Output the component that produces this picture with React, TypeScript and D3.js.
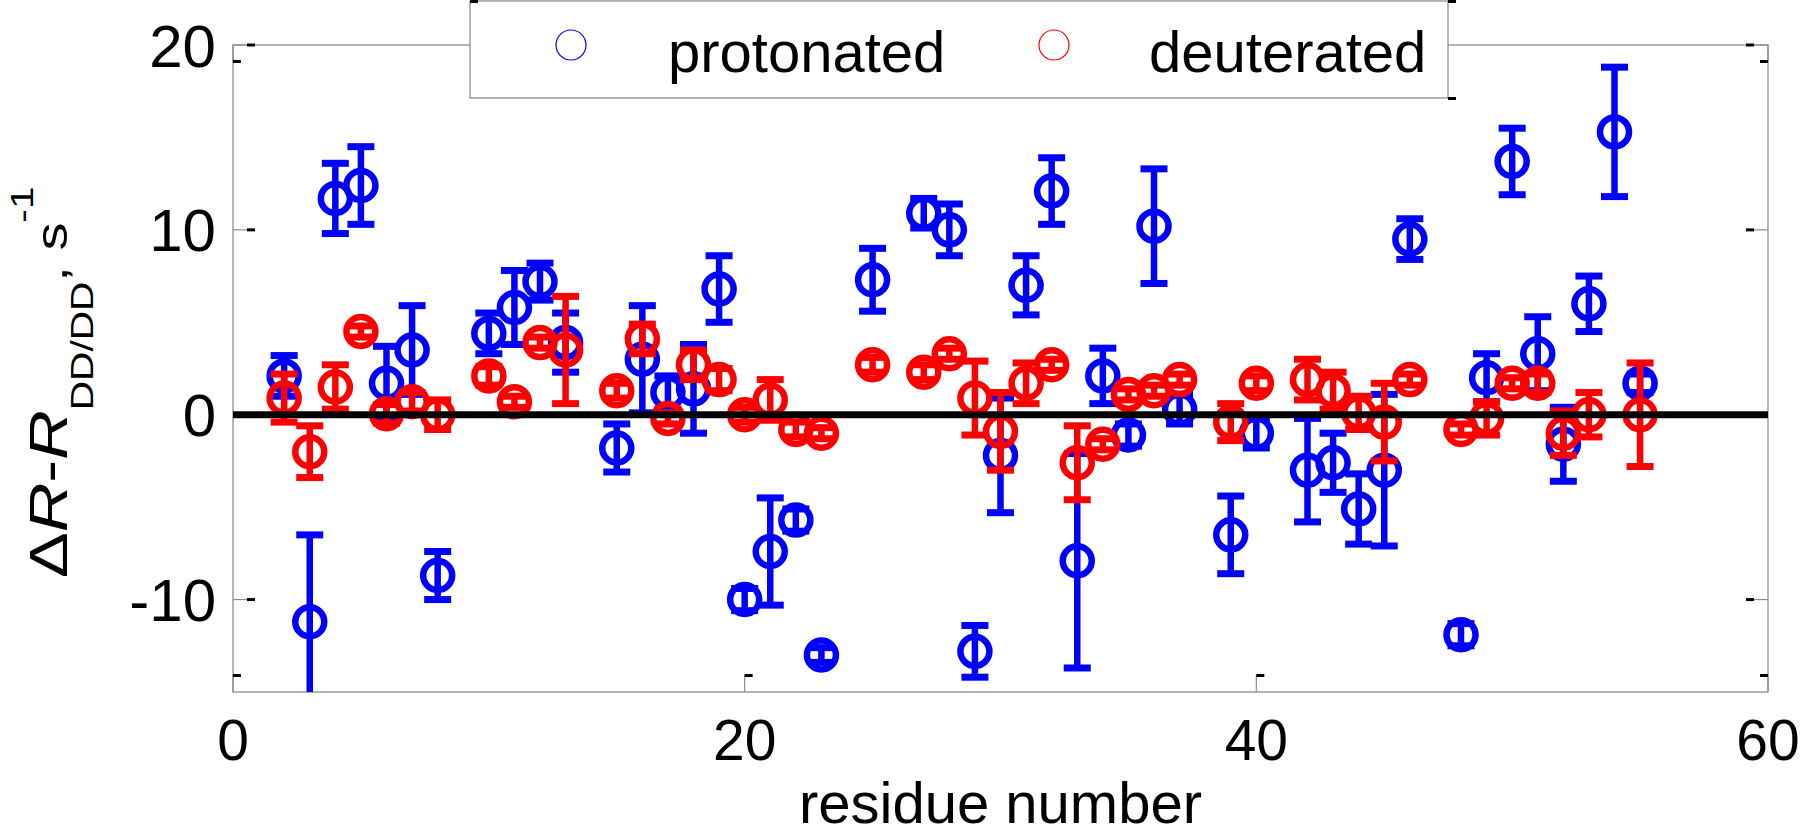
import React from 'react';
import * as d3 from 'd3';

// residue numbers and values
const protonatedResidues = [2, 3, 4, 5, 6, 7, 8, 10, 11, 12, 13, 15, 16, 17, 18, 19, 20, 21, 22, 23, 25, 27, 28, 29, 30, 31, 32, 33, 34, 35, 36, 37, 39, 40, 42, 43, 44, 45, 46, 48, 49, 50, 51, 52, 53, 54, 55];
const protonatedValues = [2.1, -11.2, 11.7, 12.4, 1.7, 3.5, -8.7, 4.4, 5.8, 7.2, 3.9, -1.8, 3.0, 1.2, 1.4, 6.8, -10.0, -7.4, -5.7, -13.0, 7.3, 10.9, 10.0, -12.8, -2.2, 7.0, 12.1, -7.9, 2.1, -1.1, 10.2, 0.3, -6.5, -1.0, -3.0, -2.6, -5.1, -3.0, 9.5, -11.9, 2.0, 13.7, 3.3, -1.6, 6.0, 15.3, 1.7];
const protonatedErrors = [1.1, 4.7, 1.9, 2.1, 2.0, 2.4, 1.3, 1.1, 2.0, 1.0, 1.6, 1.3, 2.9, 0.9, 2.4, 1.8, 0.6, 2.9, 0.6, 0.4, 1.7, 0.8, 1.4, 1.4, 3.1, 1.6, 1.8, 5.8, 1.5, 0.6, 3.1, 0.8, 2.1, 0.8, 2.8, 1.6, 1.9, 4.1, 1.1, 0.6, 1.3, 1.8, 2.0, 2.0, 1.5, 3.5, 0.5];

const deuteratedResidues = [2, 3, 4, 5, 6, 7, 8, 10, 11, 12, 13, 15, 16, 17, 18, 19, 20, 21, 22, 23, 25, 27, 28, 29, 30, 31, 32, 33, 34, 35, 36, 37, 39, 40, 42, 43, 44, 45, 46, 48, 49, 50, 51, 52, 53, 55];
const deuteratedValues = [0.9, -2.0, 1.5, 4.5, 0.05, 0.7, 0.0, 2.1, 0.7, 3.9, 3.5, 1.3, 4.1, -0.2, 2.7, 1.9, 0.0, 0.8, -0.8, -1.0, 2.7, 2.3, 3.3, 0.9, -0.9, 1.7, 2.7, -2.6, -1.6, 1.1, 1.3, 1.9, -0.4, 1.7, 1.9, 1.3, 0.1, -0.4, 1.9, -0.8, -0.2, 1.7, 1.7, -1.0, 0.0, 0.0];
const deuteratedErrors = [1.3, 1.4, 1.2, 0.3, 0.5, 0.5, 0.8, 0.5, 0.3, 0.3, 2.9, 0.4, 0.8, 0.3, 0.8, 0.6, 0.4, 1.1, 0.4, 0.3, 0.4, 0.4, 0.3, 2.0, 2.1, 1.1, 0.3, 2.0, 0.3, 0.3, 0.3, 0.3, 1.0, 0.4, 1.1, 1.0, 0.9, 2.1, 0.3, 0.3, 0.9, 0.3, 0.5, 1.2, 1.2, 2.8];

const xTicks = [0, 20, 40, 60];
const yTicks = [-10, 0, 10, 20];
const seriesNames = ['protonated', 'deuterated'];

const W = 1800;
const H = 837;
const L = 233;
const R = 1768;
const T = 45;
const B = 692;
const FONT = '"Liberation Sans", Arial, sans-serif';

const x = d3.scaleLinear().domain([0, 60]).range([L, R]);
const y = d3.scaleLinear().domain([-15, 20]).range([B, T]);

type Series = { res: number[]; val: number[]; err: number[]; color: string };

const series: Series[] = [
  { res: protonatedResidues, val: protonatedValues, err: protonatedErrors, color: '#0000ff' },
  { res: deuteratedResidues, val: deuteratedValues, err: deuteratedErrors, color: '#ff0000' },
];

function ErrorSeries({ s }: { s: Series }) {
  const capW = 27;
  const sw = 6.5;
  return (
    <g>
      {s.res.map((r, i) => {
        const cx = x(r);
        const cy = y(s.val[i]);
        const y1 = y(s.val[i] + s.err[i]);
        const y2 = y(s.val[i] - s.err[i]);
        return (
          <g key={i} stroke={s.color} fill="none">
            <line x1={cx} x2={cx} y1={y1} y2={y2} strokeWidth={sw} />
            <line x1={cx - capW / 2} x2={cx + capW / 2} y1={y1} y2={y1} strokeWidth={7} />
            <line x1={cx - capW / 2} x2={cx + capW / 2} y1={y2} y2={y2} strokeWidth={7} />
            <circle cx={cx} cy={cy} r={14.5} strokeWidth={sw} />
          </g>
        );
      })}
    </g>
  );
}

export default function App() {
  const gray = '#8e8e8e';
  return (
    <svg width={W} height={H} style={{ position: 'absolute', left: 0, top: 0, background: '#fff' }} fontFamily={FONT}>
      <defs>
        <clipPath id="plotClip">
          <rect x={L} y={T} width={R - L} height={B - T} />
        </clipPath>
      </defs>
      <rect x={0} y={0} width={W} height={H} fill="#fff" />

      {/* axes frame */}
      <rect x={L} y={T} width={R - L} height={B - T} fill="none" stroke={gray} strokeWidth={1.3} />

      {/* y ticks (left and right) */}
      {yTicks.map((t) => (
        <g key={'yt' + t}>
          <line x1={L} x2={L + 22} y1={y(t)} y2={y(t)} stroke={gray} strokeWidth={1.2} />
          <rect x={L + 14} y={y(t) - 1.5} width={8} height={3} fill="#000" />
          <line x1={R} x2={R - 22} y1={y(t)} y2={y(t)} stroke={gray} strokeWidth={1.2} />
          <rect x={R - 22} y={y(t) - 1.5} width={8} height={3} fill="#000" />
          <text x={216} y={y(t) + 21.5} fontSize={60} textAnchor="end" fill="#000">{t}</text>
        </g>
      ))}

      {/* x ticks (bottom and top) */}
      {xTicks.map((t) => (
        <g key={'xt' + t}>
          <line x1={x(t)} x2={x(t)} y1={B} y2={B - 17} stroke={gray} strokeWidth={1.2} />
          <rect x={x(t) - (t === 60 ? 8 : 0)} y={B - 18} width={8} height={3} fill="#000" />
          <line x1={x(t)} x2={x(t)} y1={T} y2={T + 17} stroke={gray} strokeWidth={1.2} />
          <rect x={x(t) - (t === 60 ? 8 : 0)} y={T + 15} width={8} height={3} fill="#000" />
          <text x={x(t)} y={760} fontSize={57} textAnchor="middle" fill="#000">{t}</text>
        </g>
      ))}

      {/* data */}
      <g clipPath="url(#plotClip)">
        {series.map((s, i) => (
          <ErrorSeries key={i} s={s} />
        ))}
        <line x1={x(0)} x2={x(60)} y1={y(0)} y2={y(0)} stroke="#000" strokeWidth={7} />
      </g>

      {/* axis labels */}
      <text x={(L + R) / 2} y={823} fontSize={58} textAnchor="middle" fill="#000">residue number</text>
      <text transform="translate(67,578) rotate(-90) scale(1.27,1)" fill="#000">
        <tspan fontSize={54}>Δ</tspan>
        <tspan fontSize={54} fontStyle="italic">R</tspan>
        <tspan fontSize={54}>-</tspan>
        <tspan fontSize={54} fontStyle="italic">R</tspan>
        <tspan fontSize={32} dy={26}>DD/DD</tspan>
        <tspan fontSize={44} dy={-26}>, s</tspan>
        <tspan fontSize={32} dy={-34}>-1</tspan>
      </text>

      {/* legend */}
      <g>
        <rect x={470} y={1} width={978} height={97} fill="#fff" stroke={gray} strokeWidth={1.3} />
        <rect x={470} y={0} width={8} height={3} fill="#000" />
        <rect x={1448} y={0} width={8} height={3} fill="#000" />
        <rect x={1448} y={97} width={8} height={3} fill="#000" />
        <circle cx={571} cy={45} r={15} fill="none" stroke="#0000ff" strokeWidth={1.2} />
        <text x={668} y={72} fontSize={58} fill="#000">{seriesNames[0]}</text>
        <circle cx={1054} cy={45} r={15} fill="none" stroke="#ff0000" strokeWidth={1.2} />
        <text x={1149} y={72} fontSize={58} fill="#000">{seriesNames[1]}</text>
      </g>
    </svg>
  );
}
